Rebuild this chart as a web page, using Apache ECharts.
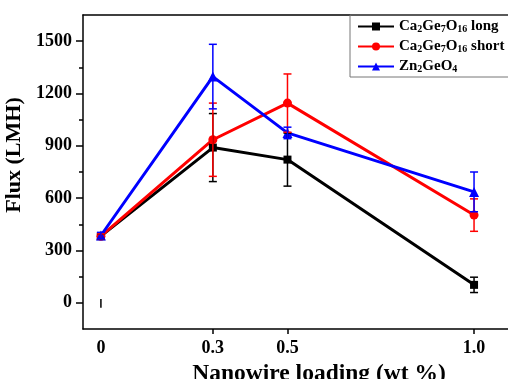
<!DOCTYPE html>
<html>
<head>
<meta charset="utf-8">
<script src="https://cdn.jsdelivr.net/npm/echarts@6/dist/echarts.min.js"></script>
<style>
  html, body { margin: 0; padding: 0; background: #fff; }
  #chart { width: 508px; height: 379px; }
</style>
</head>
<body>
<div id="chart"></div>
<script>
// nanowire loading (wt %)
var loading = [0, 0.3, 0.5, 1.0];
var xTickLabels = [0, 0.3, 0.5, 1.0];
var yTickLabels = [0, 300, 600, 900, 1200, 1500];
var yMinorTicks = [150, 450, 750, 1050, 1350];

var seriesNames = ['Ca2Ge7O16 long', 'Ca2Ge7O16 short', 'Zn2GeO4'];
var longFlux = [382, 890, 821, 103];
var longErr = [14, 195, 152, 44];
var shortFlux = [382, 935, 1145, 503];
var shortErr = [14, 210, 167, 93];
var znFlux = [386, 1297, 974, 636];
var znErr = [18, 185, 33, 114];

// lone error bar drawn near the origin in the original figure
var strayX = [0];
var strayLow = [-28];
var strayHigh = [22];

var FONT = 'Liberation Serif';
var chart = echarts.init(document.getElementById('chart'));

function pairs(f) {
	return loading.map(function(x, i) { return [x, f[i]]; });
}
function bars(f, e) {
	return loading.map(function(x, i) { return [x, f[i] - e[i], f[i] + e[i]]; });
}
function errRenderer(color, cap) {
	return function(params, api) {
		var x = api.value(0);
		var top = api.coord([x, api.value(2)]);
		var bot = api.coord([x, api.value(1)]);
		var st = { stroke: color, lineWidth: 1.5 };
		var kids = [{ type: 'line', shape: { x1: top[0], y1: top[1], x2: bot[0], y2: bot[1] }, style: st }];
		if (cap) {
			kids.push({ type: 'line', shape: { x1: top[0] - cap, y1: top[1], x2: top[0] + cap, y2: top[1] }, style: st });
			kids.push({ type: 'line', shape: { x1: bot[0] - cap, y1: bot[1], x2: bot[0] + cap, y2: bot[1] }, style: st });
		}
		return { type: 'group', children: kids };
	};
}
// "Ca2Ge7O16 long" -> rich text with subscripts
function subFmt(name) {
	return name.replace(/(\d+)|([^\d]+)/g, function(m, d, t) {
		return d ? '{s|' + d + '}' : '{n|' + t + '}';
	});
}

var colors = ['#000000', '#ff0000', '#0000ff'];
var fluxes = [longFlux, shortFlux, znFlux];
var errs = [longErr, shortErr, znErr];
var symbols = ['rect', 'circle', 'triangle'];
var symSizes = [8, 9, 10];

var series = [];
for (var k = 0; k < 3; k++) {
	series.push({
		name: seriesNames[k],
		type: 'line',
		data: pairs(fluxes[k]),
		symbol: symbols[k],
		symbolSize: symSizes[k],
		showAllSymbol: true,
		lineStyle: { color: colors[k], width: 3 },
		itemStyle: { color: colors[k] },
		z: 3
	});
}
for (var k = 0; k < 3; k++) {
	series.push({
		type: 'custom',
		data: bars(fluxes[k], errs[k]),
		renderItem: errRenderer(colors[k], 4),
		z: 4,
		silent: true
	});
}
series.push({
	type: 'custom',
	data: strayX.map(function(x, i) { return [x, strayLow[i], strayHigh[i]]; }),
	renderItem: errRenderer('#000', 0),
	silent: true
});

var option = {
	backgroundColor: '#fff',
	animation: false,
	color: colors,
	grid: { left: 83, right: 0, top: 15, bottom: 50, outerBoundsMode: 'none' },
	legend: {
		data: seriesNames,
		orient: 'vertical',
		left: 350,
		top: 15,
		padding: [4, 20, 3, 7],
		itemGap: 5,
		itemWidth: 36,
		itemHeight: 10,
		borderColor: '#777',
		borderWidth: 1,
		formatter: subFmt,
		textStyle: {
			rich: {
				n: { fontFamily: FONT, fontWeight: 'bold', fontSize: 15, color: '#000', lineHeight: 15 },
				s: { fontFamily: FONT, fontWeight: 'bold', fontSize: 10, color: '#000', verticalAlign: 'bottom', lineHeight: 15 }
			}
		}
	},
	xAxis: [{
		type: 'value',
		min: -0.048,
		max: 1.091,
		name: 'Nanowire loading (wt %)',
		nameLocation: 'middle',
		nameGap: 32,
		nameTextStyle: { fontFamily: FONT, fontWeight: 'bold', fontSize: 23.5, color: '#000', padding: [0, 0, 0, 47] },
		axisLine: { onZero: false, lineStyle: { color: '#000', width: 1.5 } },
		axisTick: { customValues: [0.3, 0.5, 1.0], length: 5, lineStyle: { color: '#000', width: 1.5 } },
		axisLabel: {
			customValues: xTickLabels,
			margin: 10,
			fontFamily: FONT, fontWeight: 'bold', fontSize: 18, color: '#000',
			formatter: function(v) { return v === 1 ? '1.0' : String(v); }
		},
		splitLine: { show: false }
	}, {
		type: 'value',
		position: 'top',
		min: -0.048,
		max: 1.091,
		axisLine: { show: true, onZero: false, lineStyle: { color: '#000', width: 1.5 } },
		axisTick: { show: false },
		axisLabel: { show: false },
		splitLine: { show: false }
	}],
	yAxis: [{
		type: 'value',
		min: -150,
		max: 1650,
		interval: 150,
		name: 'Flux (LMH)',
		nameLocation: 'middle',
		nameGap: 57,
		nameTextStyle: { fontFamily: FONT, fontWeight: 'bold', fontSize: 22, color: '#000', padding: [0, 0, 0, 34] },
		axisLine: { show: true, onZero: false, lineStyle: { color: '#000', width: 1.5 } },
		axisTick: { customValues: yTickLabels, length: 7, lineStyle: { color: '#000', width: 1.5 } },
		axisLabel: {
			customValues: yTickLabels,
			margin: 11,
			fontFamily: FONT, fontWeight: 'bold', fontSize: 18, color: '#000',
			formatter: function(v) { return String(v); }
		},
		splitLine: { show: false }
	}, {
		type: 'value',
		position: 'left',
		min: -150,
		max: 1650,
		interval: 150,
		axisLine: { show: false, onZero: false },
		axisTick: { show: true, customValues: yMinorTicks, length: 4, lineStyle: { color: '#000', width: 1.5 } },
		axisLabel: { show: false },
		splitLine: { show: false }
	}],
	series: series
};
chart.setOption(option);
</script>
</body>
</html>
